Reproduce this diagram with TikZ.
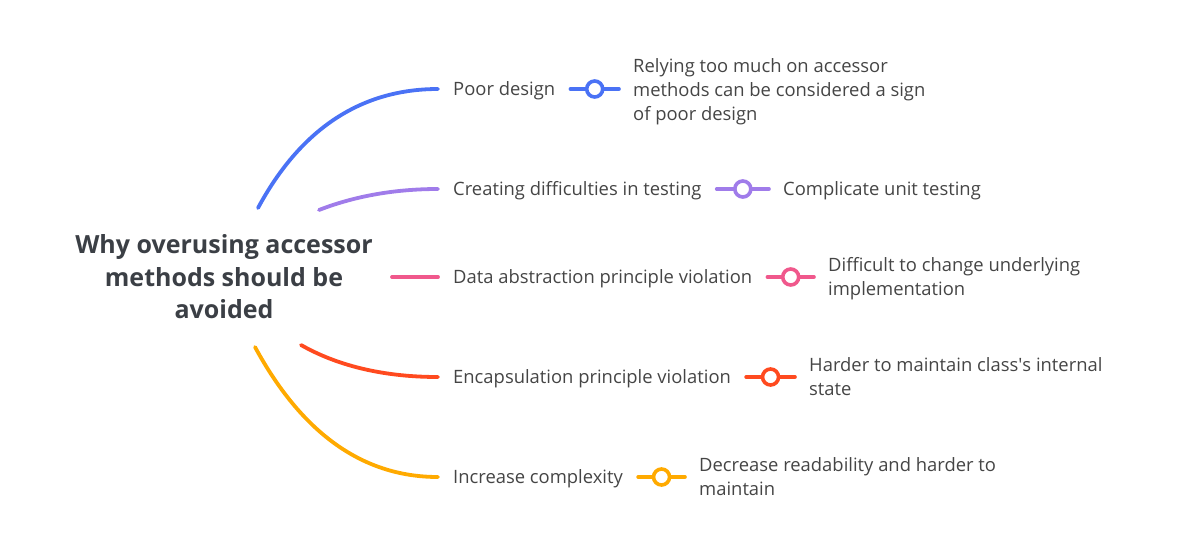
\documentclass[tikz,border=0pt]{standalone}
\usepackage{fontspec}
\setmainfont{Open Sans}
\definecolor{txt}{HTML}{454545}
\definecolor{ttl}{HTML}{3B3F45}
\definecolor{cblue}{HTML}{4A72F5}
\definecolor{cpurple}{HTML}{A07CEA}
\definecolor{cpink}{HTML}{F0588C}
\definecolor{cred}{HTML}{FF4A1F}
\definecolor{corange}{HTML}{FFAA00}
\begin{document}
\begin{tikzpicture}[x=1pt,y=-1pt,
  branch/.style={line width=3.8pt, line cap=round},
  twig/.style={line width=3.6pt, line cap=round},
  lab/.style={anchor=west, inner xsep=15pt, inner ysep=0pt, text height=17pt, text depth=4pt,
    font=\fontsize{18.4}{24}\selectfont, text=txt},
  det/.style={anchor=base west, inner xsep=14pt, inner ysep=0pt, align=left,
    font=\fontsize{18.4}{24}\selectfont, text=txt},
  dot/.style={circle, draw, line width=3.6pt, fill=white, minimum size=16pt, inner sep=0pt},
  title/.style={align=center, font=\bfseries\fontsize{25}{32.5}\selectfont, text=ttl, inner sep=0pt}]
\useasboundingbox (0,0) rectangle (1187,552);

% central topic
\node[title] (root) at (224,277) {Why overusing accessor\\methods should be\\avoided};

% start points of the branches around the central topic
\coordinate (s1) at (258,208);
\coordinate (s2) at (319,210);
\coordinate (s3) at (392,277);
\coordinate (s4) at (301,345);
\coordinate (s5) at (255,347);

% first-level labels
\node[lab] (l1) at (438,89)  {Poor design};
\node[lab] (l2) at (438,189) {Creating difficulties in testing};
\node[lab] (l3) at (438,277) {Data abstraction principle violation};
\node[lab] (l4) at (438,377) {Encapsulation principle violation};
\node[lab] (l5) at (438,477) {Increase complexity};

% second-level details (anchored on the baseline of their last line)
\node[det] (d1) at (619,120.5) {Relying too much on accessor\\methods can be considered a sign\\of poor design};
\node[det] (d2) at (769,195.5) {Complicate unit testing};
\node[det] (d3) at (814,295.5) {Difficult to change underlying\\implementation};
\node[det] (d4) at (795,395.5) {Harder to maintain class\textquotesingle s internal\\state};
\node[det] (d5) at (685,495.5) {Decrease readability and harder to\\maintain};

% branches
\draw[branch, cblue]   (s1) .. controls (300,130) and (360,89)  .. (l1.west);
\draw[branch, cpurple] (s2) .. controls (355,196) and (395,189) .. (l2.west);
\draw[branch, cpink]   (s3) -- (l3.west);
\draw[branch, cred]    (s4) .. controls (345,370) and (395,377) .. (l4.west);
\draw[branch, corange] (s5) .. controls (300,430) and (360,477) .. (l5.west);

% twigs with their dots
\draw[twig, cblue]   (l1.east) -- (d1.west |- l1.east) node[dot, midway] {};
\draw[twig, cpurple] (l2.east) -- (d2.west |- l2.east) node[dot, midway] {};
\draw[twig, cpink]   (l3.east) -- (d3.west |- l3.east) node[dot, midway] {};
\draw[twig, cred]    (l4.east) -- (d4.west |- l4.east) node[dot, midway] {};
\draw[twig, corange] (l5.east) -- (d5.west |- l5.east) node[dot, midway] {};
\end{tikzpicture}
\end{document}
